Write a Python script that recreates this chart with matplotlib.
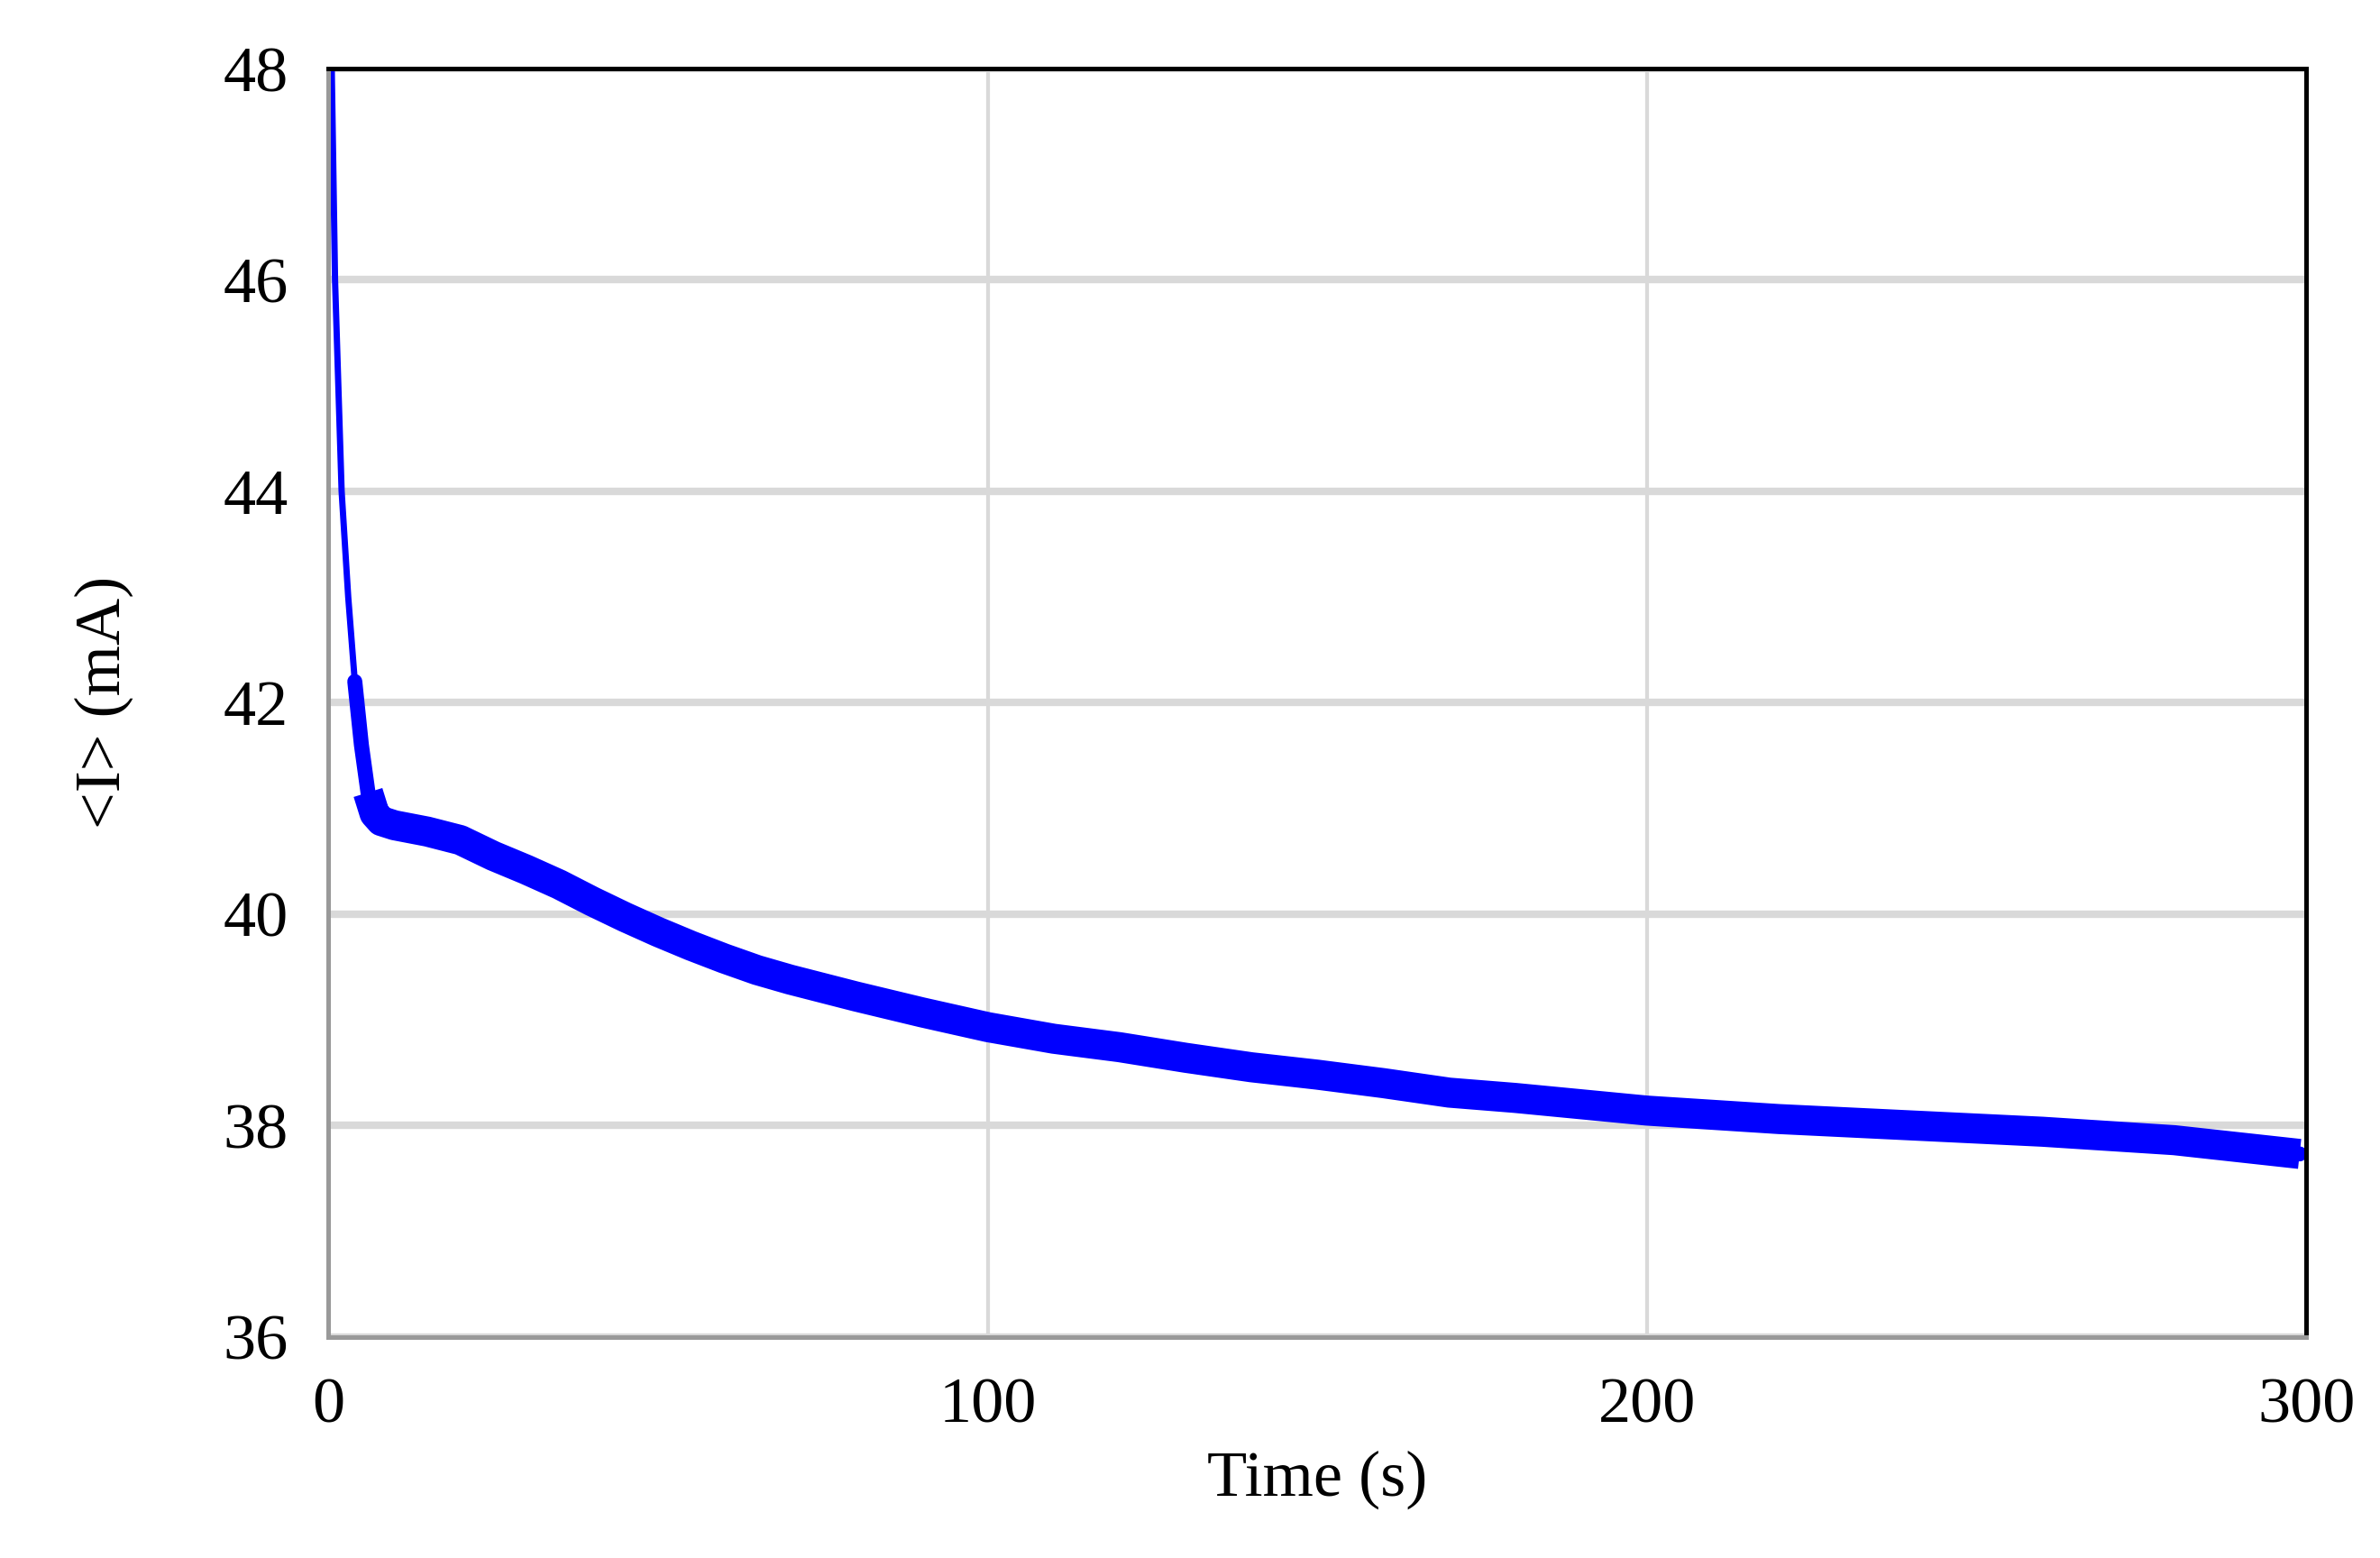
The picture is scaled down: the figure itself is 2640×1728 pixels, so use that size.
import matplotlib
matplotlib.use("Agg")
import matplotlib.pyplot as plt

time_s = [0.5, 1, 2, 3, 4, 5, 6, 7, 8, 10, 15, 20, 25, 30, 35, 40, 45, 50, 55, 60, 65, 70, 80, 90, 100,
          110, 120, 130, 140, 150, 160, 170, 180, 190, 200, 220, 240, 260, 280, 299]
current_mA = [48, 46, 44, 43, 42.2, 41.6, 41.15, 40.95, 40.88, 40.84, 40.78, 40.7, 40.55, 40.42, 40.28,
              40.12, 39.97, 39.83, 39.7, 39.58, 39.47, 39.38, 39.22, 39.07, 38.93, 38.82, 38.74,
              38.64, 38.55, 38.48, 38.4, 38.31, 38.26, 38.2, 38.14, 38.06, 38.0, 37.94, 37.86, 37.73]

plt.rcParams['font.family'] = ['Liberation Serif', 'DejaVu Serif']
fig = plt.figure(figsize=(13.2, 8.64), dpi=200)
ax = fig.add_axes([0.138, 0.142, 0.831, 0.814])
ax.plot(time_s[:8], current_mA[:8], color='#0000ff', lw=2.5, solid_capstyle='round')
ax.plot(time_s[4:], current_mA[4:], color='#0000ff', lw=6, solid_capstyle='round')
ax.plot(time_s[6:], current_mA[6:], color='#0000ff', lw=12, solid_capstyle='butt',
        solid_joinstyle='round')
ax.set_xlim(0, 300)
ax.set_ylim(36, 48)
ax.set_xticks([0, 100, 200, 300])
ax.set_yticks(range(36, 49, 2))
ax.grid(axis='y', color='#d9d9d9', lw=3)
ax.grid(axis='x', color='#d9d9d9', lw=1.5)
ax.set_axisbelow(True)
for s in ax.spines.values():
    s.set_linewidth(1.8)
ax.spines['left'].set_color('#999999')
ax.spines['bottom'].set_color('#999999')
ax.tick_params(length=0, labelsize=26, pad=16)
ax.set_xlabel('Time (s)', fontsize=26, labelpad=6)
ax.set_ylabel('<I> (mA)', fontsize=26, labelpad=36)
fig.savefig('out.png')
